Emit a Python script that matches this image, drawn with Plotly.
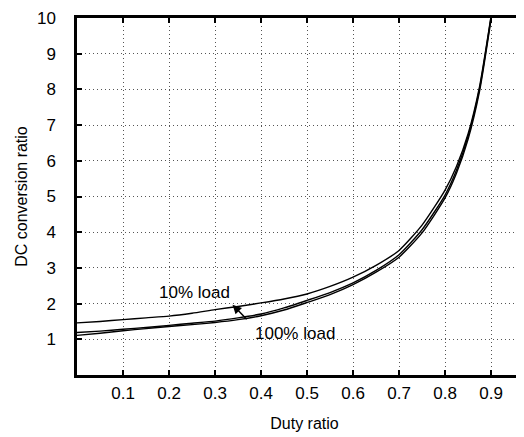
import plotly.graph_objects as go

duty = [0, 0.05, 0.1, 0.15, 0.2, 0.25, 0.3, 0.35, 0.4, 0.45, 0.5, 0.55, 0.6,
        0.65, 0.7, 0.75, 0.8, 0.825, 0.85, 0.875, 0.9]
ratio_10 = [1.46, 1.50, 1.55, 1.60, 1.65, 1.73, 1.83, 1.92, 2.02, 2.13, 2.27,
            2.48, 2.74, 3.07, 3.49, 4.20, 5.18, 5.85, 6.75, 8.08, 10.05]
ratio_mid = [1.19, 1.23, 1.28, 1.33, 1.39, 1.45, 1.51, 1.60, 1.71, 1.88, 2.09,
             2.31, 2.58, 2.93, 3.37, 4.07, 5.04, 5.74, 6.68, 8.02, 10.02]
ratio_100 = [1.11, 1.17, 1.24, 1.30, 1.36, 1.41, 1.47, 1.55, 1.66, 1.82, 2.03,
             2.25, 2.53, 2.88, 3.30, 3.98, 4.96, 5.66, 6.60, 7.95, 9.96]
x_ticks = [0.1, 0.2, 0.3, 0.4, 0.5, 0.6, 0.7, 0.8, 0.9]
y_ticks = [1, 2, 3, 4, 5, 6, 7, 8, 9, 10]

FONT = "Liberation Sans, Arial, sans-serif"
XR = [0, 0.989]
YR = [0, 10]

fig = go.Figure()
for ys in (ratio_10, ratio_mid, ratio_100):
    fig.add_trace(go.Scatter(x=duty, y=ys, mode="lines",
                             line=dict(color="black", width=1.4, shape="spline",
                                       smoothing=0.6),
                             showlegend=False, hoverinfo="skip"))
# invisible trace for mirror axes
fig.add_trace(go.Scatter(x=[0], y=[0], xaxis="x2", yaxis="y2", mode="markers",
                         marker=dict(opacity=0), showlegend=False, hoverinfo="skip"))

axis_common = dict(ticks="inside", ticklen=5, tickwidth=2, tickcolor="black",
                   linecolor="black", linewidth=2.5, zeroline=False)
grid_common = dict(showgrid=True, gridcolor="#555", griddash="1px,3px", gridwidth=1)

fig.update_layout(
    width=524, height=437,
    margin=dict(l=69, r=0, t=10, b=70),
    paper_bgcolor="white", plot_bgcolor="white",
    font=dict(family=FONT, size=17, color="black"),
    xaxis=dict(range=XR, tickvals=x_ticks, ticktext=[str(v) for v in x_ticks],
               showline=True, ticklabelstandoff=1,
               title=dict(text="Duty ratio", font=dict(size=16), standoff=16),
               **grid_common, **axis_common),
    yaxis=dict(range=YR, tickvals=y_ticks, ticktext=[str(v) for v in y_ticks],
               showline=True, ticklabelstandoff=15,
               title=dict(text="DC conversion ratio", font=dict(size=16), standoff=6),
               **grid_common, **axis_common),
    xaxis2=dict(range=XR, overlaying="x", side="top", tickvals=x_ticks,
                showticklabels=False, showline=True, showgrid=False, **axis_common),
    yaxis2=dict(range=YR, overlaying="y", side="right", tickvals=y_ticks,
                showticklabels=False, showline=False, showgrid=False, **axis_common),
    annotations=[
        dict(x=0.256, y=2.30, text="10% load", showarrow=False,
             font=dict(size=17), xref="x", yref="y"),
        dict(x=0.473, y=1.15, text="100% load", showarrow=False,
             font=dict(size=17), xref="x", yref="y"),
        dict(x=0.338, y=1.97, ax=0.372, ay=1.52, axref="x", ayref="y",
             xref="x", yref="y", text="", showarrow=True, arrowhead=2,
             arrowsize=1.2, arrowwidth=1.5, arrowcolor="black"),
    ],
)

fig.write_html("out.html")
